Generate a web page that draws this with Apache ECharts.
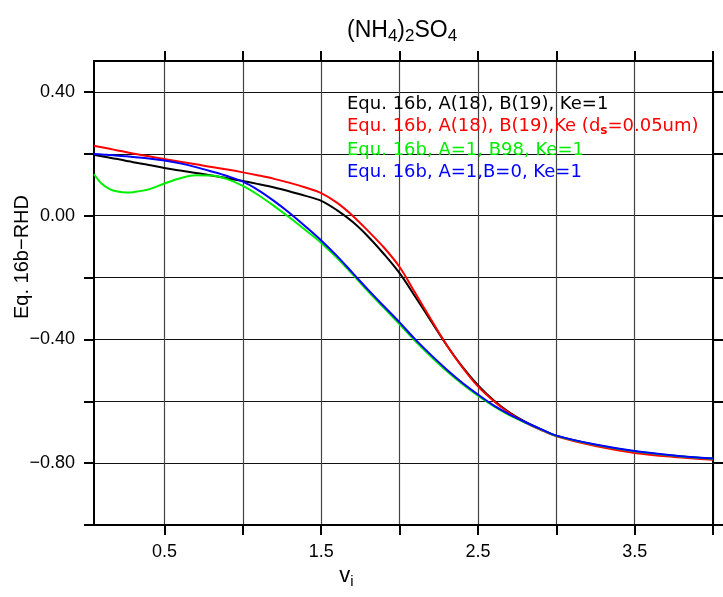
<!DOCTYPE html>
<html>
<head>
<meta charset="utf-8">
<script src="https://cdn.jsdelivr.net/npm/echarts@6/dist/echarts.min.js"></script>
<style>html,body{margin:0;padding:0;background:#fff}#c{width:723px;height:597px}</style>
</head>
<body>
<div id="c"></div>
<script>
var xs = [0.05, 0.1, 0.15, 0.2, 0.26, 0.3, 0.4, 0.5, 0.6, 0.7, 0.8, 0.9, 1.0, 1.1, 1.2, 1.3, 1.4, 1.5, 1.6, 1.7, 1.8, 1.9, 2.0, 2.1, 2.2, 2.3, 2.4, 2.5, 2.6, 2.7, 2.8, 2.9, 3.0, 3.25, 3.5, 3.75, 4.0];
var blackY = [0.197, 0.192, 0.187, 0.183, 0.177, 0.173, 0.164, 0.154, 0.146, 0.138, 0.130, 0.121, 0.112, 0.102, 0.091, 0.078, 0.064, 0.048, 0.018, -0.020, -0.068, -0.124, -0.186, -0.262, -0.340, -0.418, -0.488, -0.548, -0.597, -0.636, -0.666, -0.690, -0.711, -0.741, -0.762, -0.776, -0.786];
var redY = [0.226, 0.221, 0.216, 0.211, 0.205, 0.201, 0.192, 0.183, 0.174, 0.166, 0.157, 0.149, 0.140, 0.130, 0.119, 0.106, 0.091, 0.073, 0.042, 0.000, -0.050, -0.103, -0.166, -0.250, -0.335, -0.418, -0.490, -0.552, -0.599, -0.638, -0.668, -0.692, -0.713, -0.745, -0.767, -0.780, -0.789];
var greenY = [0.134, 0.103, 0.086, 0.078, 0.075, 0.076, 0.085, 0.104, 0.121, 0.131, 0.130, 0.118, 0.096, 0.066, 0.031, -0.007, -0.047, -0.088, -0.136, -0.190, -0.245, -0.298, -0.351, -0.405, -0.455, -0.502, -0.544, -0.582, -0.616, -0.645, -0.669, -0.691, -0.712, -0.741, -0.762, -0.776, -0.786];
var blueY = [0.199, 0.198, 0.196, 0.194, 0.192, 0.190, 0.185, 0.178, 0.169, 0.157, 0.143, 0.128, 0.110, 0.082, 0.047, 0.008, -0.035, -0.080, -0.130, -0.185, -0.240, -0.293, -0.345, -0.400, -0.450, -0.497, -0.540, -0.578, -0.613, -0.642, -0.667, -0.690, -0.711, -0.740, -0.761, -0.775, -0.785];
var seriesNames = ['Equ. 16b, A(18), B(19), Ke=1', 'Equ. 16b, A(18), B(19),Ke (ds=0.05um)', 'Equ. 16b, A=1, B98, Ke=1', 'Equ. 16b, A=1,B=0, Ke=1'];
var seriesColors = ['#000000', '#ff0000', '#00ee00', '#0000ff'];
var xTicks = [0.5, 1.0, 1.5, 2.0, 2.5, 3.0, 3.5, 4.0];
var xTickLabels = [0.5, 1.5, 2.5, 3.5];
var yTicks = [-1.0, -0.8, -0.6, -0.4, -0.2, 0.0, 0.2, 0.4];
var yTickLabels = [-0.8, -0.4, 0.0, 0.4];

function pairs(ys) { return xs.map(function (x, i) { return [x, ys[i]]; }); }
var allY = [blackY, redY, greenY, blueY];

var chart = echarts.init(document.getElementById('c'), null, {renderer: 'canvas'});
var FONT = 'Liberation Sans';
var LFONT = 'DejaVu Sans';
var fmtY = function (v) { var s = (Math.abs(v)).toFixed(2); return (v < -1e-9 ? '\u2212' : '') + s; };

var xBase = {
  type: 'value', min: 0.05, max: 4.0,
  axisLine: {show: true, onZero: false, lineStyle: {color: '#000', width: 2}},
  axisTick: {show: true, inside: false, length: 10, customValues: xTicks, lineStyle: {color: '#000', width: 2}},
  splitLine: {show: false}
};
var yBase = {
  type: 'value', min: -1.0, max: 0.5,
  axisLine: {show: true, onZero: false, lineStyle: {color: '#000', width: 2}},
  axisTick: {show: true, inside: false, length: 10, customValues: yTicks, lineStyle: {color: '#000', width: 2}},
  splitLine: {show: false}
};

var option = {
  animation: false,
  backgroundColor: '#fff',
  title: {
    text: '(NH{s|4}){s|2}SO{s|4}',
    left: 342,
    top: 11,
    textStyle: {
      fontFamily: FONT, fontSize: 23, fontWeight: 'normal', color: '#000',
      rich: {s: {fontFamily: FONT, fontSize: 17, color: '#000', verticalAlign: 'bottom', padding: [12, 0, 0, 0]}}
    }
  },
  legend: {
    orient: 'vertical',
    left: 337, top: 90,
    icon: 'none', itemWidth: 0, itemHeight: 18, itemGap: 4,
    selectedMode: false,
    data: seriesNames.map(function (n, i) { return {name: n, textStyle: {color: seriesColors[i]}}; }),
    formatter: function (n) { return n.indexOf('(ds=') >= 0 ? n.replace('(ds=', '(d{sub|s}=') : n; },
    textStyle: {
      fontFamily: LFONT, fontSize: 18,
      rich: {sub: {fontFamily: LFONT, fontSize: 12, fontWeight: 'bold', color: '#ff0000', verticalAlign: 'bottom', padding: [10, 0, 0, 0]}}
    }
  },
  grid: {left: 94, right: 10, top: 61, bottom: 72, containLabel: false, outerBoundsMode: 'none'},
  xAxis: [
    echarts.util.merge({
      position: 'bottom',
      name: 'v{i|i}',
      nameLocation: 'middle',
      nameGap: 37,
      nameMoveOverlap: false,
      nameTextStyle: {fontFamily: FONT, fontSize: 22, color: '#000', padding: [0, 114, 0, 0],
        rich: {i: {fontFamily: FONT, fontSize: 15, color: '#000', verticalAlign: 'bottom', padding: [12, 0, 0, 0]}}},
      axisLabel: {show: true, customValues: xTickLabels, margin: 18, fontFamily: FONT, fontSize: 18, color: '#000',
        formatter: function (v) { return v.toFixed(1); }},
      splitLine: {show: true, lineStyle: {color: '#444', width: 1.2}}
    }, xBase, false),
    echarts.util.merge({position: 'top', axisLabel: {show: false}}, xBase, false)
  ],
  yAxis: [
    echarts.util.merge({
      position: 'left',
      name: 'Eq. 16b\u2212RHD',
      nameLocation: 'middle',
      nameGap: 62,
      nameRotate: 90,
      nameMoveOverlap: false,
      nameTextStyle: {fontFamily: FONT, fontSize: 20, color: '#000', padding: [0, 0, 0, 72]},
      axisLabel: {show: true, customValues: yTickLabels, margin: 19, fontFamily: FONT, fontSize: 18, color: '#000', formatter: fmtY},
      splitLine: {show: true, lineStyle: {color: '#111', width: 1.2}}
    }, yBase, false),
    echarts.util.merge({position: 'right', axisLabel: {show: false}}, yBase, false)
  ],
  series: seriesNames.map(function (n, i) {
    return {
      name: n, type: 'line', xAxisIndex: 0, yAxisIndex: 0,
      data: pairs(allY[i]), showSymbol: false, smooth: 0.35,
      lineStyle: {color: seriesColors[i], width: 2}, itemStyle: {color: seriesColors[i]},
      z: 3 + i
    };
  })
};
chart.setOption(option);
</script>
</body>
</html>
